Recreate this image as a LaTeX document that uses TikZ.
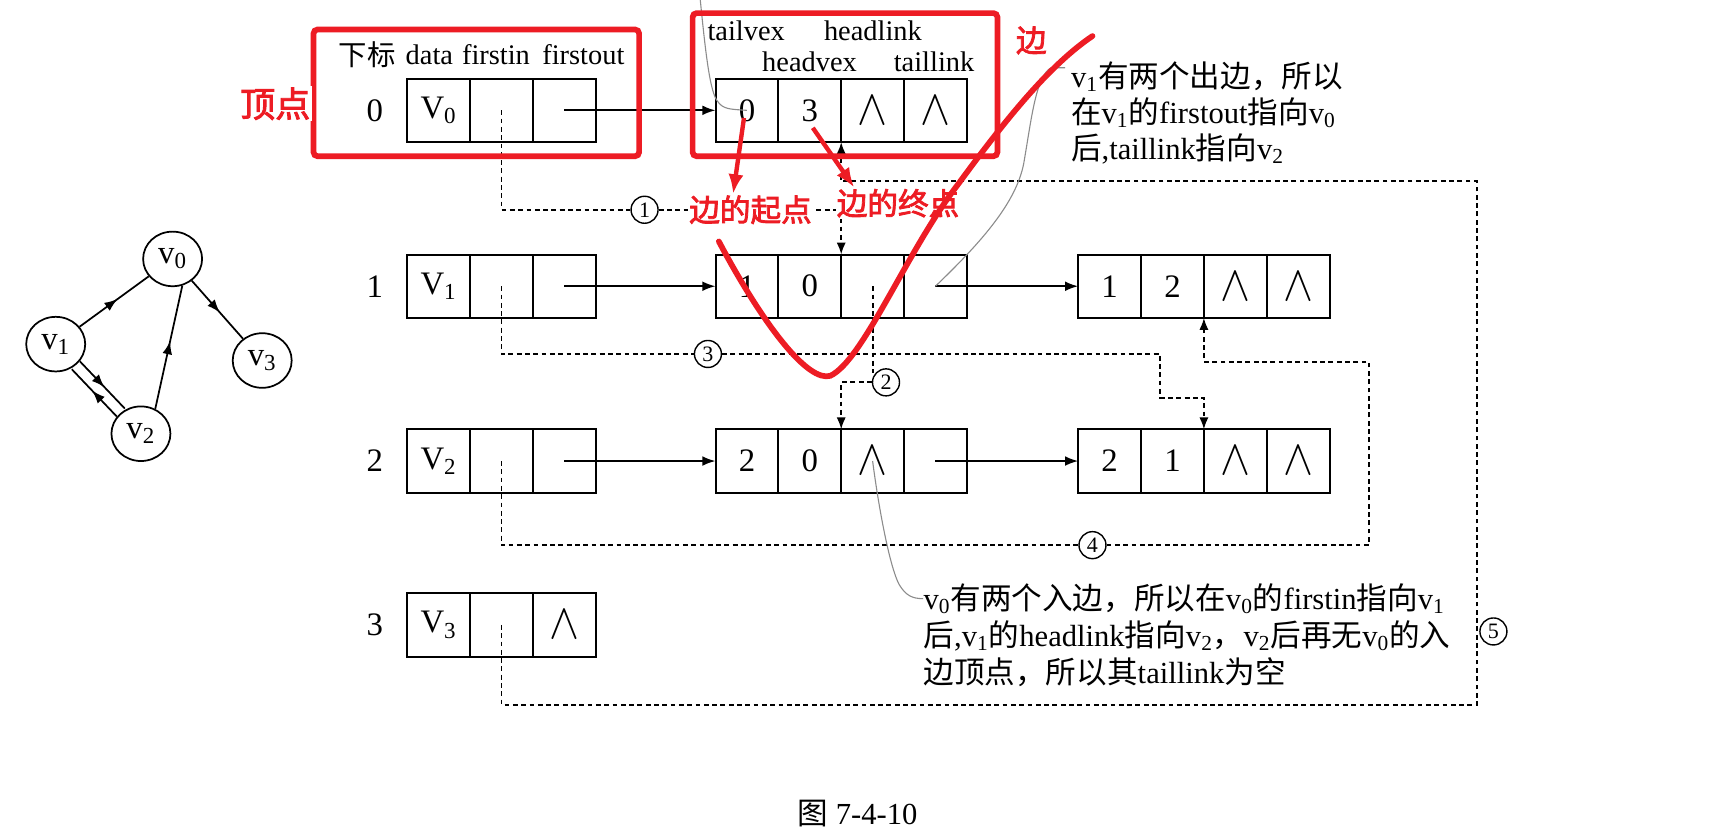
\documentclass[tikz,border=0pt]{standalone}
\usepackage{fontspec}
\usepackage{graphicx}
\setmainfont{Liberation Serif}
\newfontfamily\cjk{Noto Sans CJK SC}
\newfontfamily\cjkb[FakeBold=2.5]{Noto Sans CJK SC}
\usetikzlibrary{arrows.meta,decorations.markings,shapes.geometric}
\definecolor{annored}{RGB}{237,28,36}
\definecolor{leader}{gray}{0.55}
\newcommand\zh[1]{{\cjk #1}}
\newcommand\nul{\scalebox{1.3}[1.45]{$\wedge$}}
\newcommand\subx[1]{\textsubscript{#1}}
\tikzset{
 cell/.style={draw, line width=1pt, minimum width=31.41pt, minimum height=31.68pt, inner sep=0pt, outer sep=0pt, font=\fontsize{16.4}{16.4}\selectfont},
 lbl/.style={font=\fontsize{14.2}{14.2}\selectfont, inner sep=0pt},
 idx/.style={font=\fontsize{16.4}{16.4}\selectfont, inner sep=0pt},
 ptr/.style={line width=1pt, -{Latex[length=6.6pt,width=4.9pt]}},
 dl/.style={line width=0.9pt, dash pattern=on 2.4pt off 1.75pt},
 dla/.style={dl, -{Latex[length=6pt,width=4.6pt]}},
 circnum/.style={draw, circle, line width=0.7pt, minimum size=13.5pt, inner sep=0pt, font=\fontsize{11}{11}\selectfont, fill=white},
 note/.style={anchor=west, inner sep=0pt, font=\fontsize{15.3}{15.3}\selectfont},
 leaderl/.style={draw=leader, line width=0.55pt},
 redbox/.style={draw=annored, line width=2.85pt, rounded corners=2pt},
 redtxt/.style={text=annored, font=\cjkb\fontsize{15.3}{15.3}\selectfont, fill=white, inner sep=0.6pt},
 redarr/.style={draw=annored, line width=2.2pt, -{Latex[length=9.8pt,width=7.6pt]}},
 gnode/.style={draw, ellipse, line width=0.87pt, minimum width=29.5pt, minimum height=27.3pt, inner sep=0pt, font=\fontsize{16.4}{16.4}\selectfont},
 gedge/.style={line width=0.87pt, postaction={decorate}, decoration={markings, mark=at position 0.55 with {\arrow{Latex[length=6.6pt,width=4.9pt]}}}},
}
\begin{document}
\begin{tikzpicture}[x=0.54625pt,y=-0.54625pt]
\path[use as bounding box, fill=white] (0,0) rectangle (1568,763.4);

% ---------- small graph ----------
\node[gnode] (g0) at (158,237) {v\subx{0}};
\node[gnode] (g1n) at (51,315) {v\subx{1}};
\node[gnode] (g2) at (129,397) {v\subx{2}};
\node[gnode] (g3) at (240,330) {v\subx{3}};
\draw[gedge] (g1n) -- (g0);
\draw[gedge] (g0) -- (g3);
\draw[gedge] (g2.60) -- (g0.290);
\draw[gedge, transform canvas={xshift=2pt,yshift=2pt}] (g1n) -- (g2);
\draw[gedge, transform canvas={xshift=-2pt,yshift=-2pt}] (g2) -- (g1n);

% ---------- headers ----------
\node[lbl] (h1) at (336,50) {\zh{下标}};
\node[lbl] (h2) at (393,50) {data};
\node[lbl] (h3) at (454,50) {firstin};
\node[lbl] (h4) at (534,50) {firstout};
\node[lbl] (h5) at (683,28) {tailvex};
\node[lbl] (h6) at (799,28) {headlink};
\node[lbl] (h7) at (741,57) {headvex};
\node[lbl] (h8) at (855,57) {taillink};

% ---------- row 0 ----------
\node[idx] (i0) at (343,101) {0};
\node[cell] (v0d) at (401.5,101) {V\subx{0}};
\node[cell] (v0i) at (459,101) {};
\node[cell] (v0o) at (516.5,101) {};
\node[cell] (e03a) at (683.75,101) {0};
\node[cell] (e03b) at (741.25,101) {3};
\node[cell] (e03c) at (798.75,101) {\nul};
\node[cell] (e03d) at (856.25,101) {\nul};

% ---------- row 1 ----------
\node[idx] (i1) at (343,262) {1};
\node[cell] (v1d) at (401.5,262) {V\subx{1}};
\node[cell] (v1i) at (459,262) {};
\node[cell] (v1o) at (516.5,262) {};
\node[cell] (e10a) at (683.75,262) {1};
\node[cell] (e10b) at (741.25,262) {0};
\node[cell] (e10c) at (798.75,262) {};
\node[cell] (e10d) at (856.25,262) {};
\node[cell] (e12a) at (1015.75,262) {1};
\node[cell] (e12b) at (1073.25,262) {2};
\node[cell] (e12c) at (1130.75,262) {\nul};
\node[cell] (e12d) at (1188.25,262) {\nul};

% ---------- row 2 ----------
\node[idx] (i2) at (343,422) {2};
\node[cell] (v2d) at (401.5,422) {V\subx{2}};
\node[cell] (v2i) at (459,422) {};
\node[cell] (v2o) at (516.5,422) {};
\node[cell] (e20a) at (683.75,422) {2};
\node[cell] (e20b) at (741.25,422) {0};
\node[cell] (e20c) at (798.75,422) {\nul};
\node[cell] (e20d) at (856.25,422) {};
\node[cell] (e21a) at (1015.75,422) {2};
\node[cell] (e21b) at (1073.25,422) {1};
\node[cell] (e21c) at (1130.75,422) {\nul};
\node[cell] (e21d) at (1188.25,422) {\nul};

% ---------- row 3 ----------
\node[idx] (i3) at (343,572) {3};
\node[cell] (v3d) at (401.5,572) {V\subx{3}};
\node[cell] (v3i) at (459,572) {};
\node[cell] (v3o) at (516.5,572) {\nul};

% ---------- pointers ----------
\draw[ptr] (v0o.center) -- (e03a.west);
\draw[ptr] (v1o.center) -- (e10a.west);
\draw[ptr] (e10d.center) -- (e12a.west);
\draw[ptr] (v2o.center) -- (e20a.west);
\draw[ptr] (e20d.center) -- (e21a.west);

% ---------- dashed chains ----------
\node[circnum] (c1) at (590,192) {1};
\node[circnum] (c2) at (811,350) {2};
\node[circnum] (c3) at (648,324) {3};
\node[circnum] (c4) at (1000,499) {4};
\node[circnum] (c5) at (1367,578) {5};
\coordinate (k3a) at (1062,324);
\coordinate (k3b) at (1062,364);
\coordinate (k4a) at (1253,499);
\coordinate (k4b) at (1253,331);
\coordinate (k5b) at (1352,645);
\coordinate (k5t) at (1352,166);

\draw[dl] (v0i.center) |- (c1.west);
\draw[dla] (c1.east) -| (e10c.north west);
\draw[dl] (e10c.center) |- (c2.north west);
\draw[dla] (c2.west) -| (e20c.north west);
\draw[dl] (v1i.center) |- (c3.west);
\draw[dla] (c3.east) -- (k3a) -- (k3b) -| (e21c.north west);
\draw[dl] (v2i.center) |- (c4.west);
\draw[dla] (c4.east) -- (k4a) -- (k4b) -| (e12c.south west);
\draw[dla] (v3i.center) |- (k5b) -- (k5t) -| (e03c.south west);

% ---------- notes ----------
\node[note] (tA1) at (980,70) {v\subx{1}\zh{有两个出边，所以}};
\node[note] (tA2) at (980,103) {\zh{在}v\subx{1}\zh{的}firstout\zh{指向}v\subx{0}};
\node[note] (tA3) at (980,136) {\zh{后},taillink\zh{指向}v\subx{2}};
\node[note] (tB1) at (845,548) {v\subx{0}\zh{有两个入边，所以在}v\subx{0}\zh{的}firstin\zh{指向}v\subx{1}};
\node[note] (tB2) at (845,582) {\zh{后},v\subx{1}\zh{的}headlink\zh{指向}v\subx{2}\zh{，}v\subx{2}\zh{后再无}v\subx{0}\zh{的入}};
\node[note] (tB3) at (845,615) {\zh{边顶点，所以其}taillink\zh{为空}};
\node[font=\fontsize{15.3}{15.3}\selectfont] (cap) at (785,745) {\zh{图} 7-4-10};

% ---------- gray leaders ----------
\coordinate (gl1) at (641,0);
\coordinate (gl2) at (975,62);
\draw[leaderl] (gl1) .. controls (646,50) and (650,85) .. (657,93) .. controls (662,100) and (668,100) .. (e03a.center);
\draw[leaderl] (gl2) -- (962,62) .. controls (948,70) and (944,110) .. (937,150) .. controls (930,185) and (900,220) .. (e10d.center);
\draw[leaderl] (e20c.center) .. controls (805,470) and (815,520) .. (823,535) .. controls (829,545) and (835,548) .. (tB1.west);

% ---------- red annotations ----------
\draw[redbox] (287,27) rectangle (585,143);
\draw[redbox] (634,12) rectangle (913,143);
\node[redtxt, font=\cjkb\fontsize{17.5}{17.5}\selectfont] (rv) at (252,95) {顶点};
\node[redtxt] (re) at (944,37) {边};
\node[redtxt] (rs) at (687,192) {边的起点};
\node[redtxt] (rt) at (822,186) {边的终点};
\coordinate (ra1) at (681,108);
\coordinate (ra2) at (744,117);
\draw[redarr] (ra1) -- ([xshift=-8.7pt]rs.north);
\draw[redarr] (ra2) -- ([xshift=-21.9pt]rt.north);
\draw[draw=annored, line width=2.85pt, line cap=round] (658,221) .. controls (700,300) and (740,350) .. (760,344) .. controls (790,330) and (830,230) .. (876,170) .. controls (920,110) and (960,60) .. (1000,33);
\end{tikzpicture}
\end{document}
